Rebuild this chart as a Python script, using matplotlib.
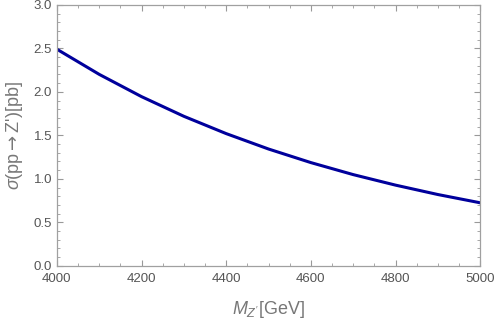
import numpy as np
import matplotlib.pyplot as plt
from matplotlib.ticker import MultipleLocator

plt.rcParams['font.family'] = ['Liberation Sans', 'DejaVu Sans']
plt.rcParams['mathtext.fontset'] = 'custom'
plt.rcParams['mathtext.it'] = 'Liberation Sans:italic'
plt.rcParams['mathtext.rm'] = 'Liberation Sans'
plt.rcParams['mathtext.sf'] = 'DejaVu Sans'

# Z' mass (GeV) and cross section (pb)
mass = [4000, 4100, 4200, 4300, 4400, 4500, 4600, 4700, 4800, 4900, 5000]
sigma = [2.49, 2.201, 1.945, 1.719, 1.520, 1.343, 1.187, 1.049, 0.928, 0.820, 0.725]

grey = '#777777'
fig = plt.figure(figsize=(4.95, 3.25), dpi=100)
ax = fig.add_axes([0.115, 0.182, 0.855, 0.803])

ax.plot(mass, sigma, color='#00009c', lw=2.2)

ax.set_xlim(4000, 5000)
ax.set_ylim(0, 3.0)
ax.xaxis.set_major_locator(MultipleLocator(200))
ax.xaxis.set_minor_locator(MultipleLocator(50))
ax.yaxis.set_major_locator(MultipleLocator(0.5))
ax.yaxis.set_minor_locator(MultipleLocator(0.1))
ax.yaxis.set_major_formatter(plt.FuncFormatter(lambda v, p: '%.1f' % v))

for s in ax.spines.values():
    s.set_color('#a0a0a0')
    s.set_linewidth(0.9)
ax.tick_params(which='both', direction='in', top=True, right=True,
               color='#999999', labelcolor='#555555', labelsize=9.5)
ax.tick_params(which='major', length=4, width=0.8)
ax.tick_params(which='minor', length=2.2, width=0.6)
ax.tick_params(axis='x', pad=5)

ax.set_xlabel("$M_{Z'}$[GeV]", fontsize=13, color=grey, labelpad=10)
ax.set_ylabel("$\\sigma$(pp$\\mathsf{\\rightarrow}$Z')[pb]", fontsize=13,
              color=grey, labelpad=6)

fig.savefig('out.png', dpi=100)
